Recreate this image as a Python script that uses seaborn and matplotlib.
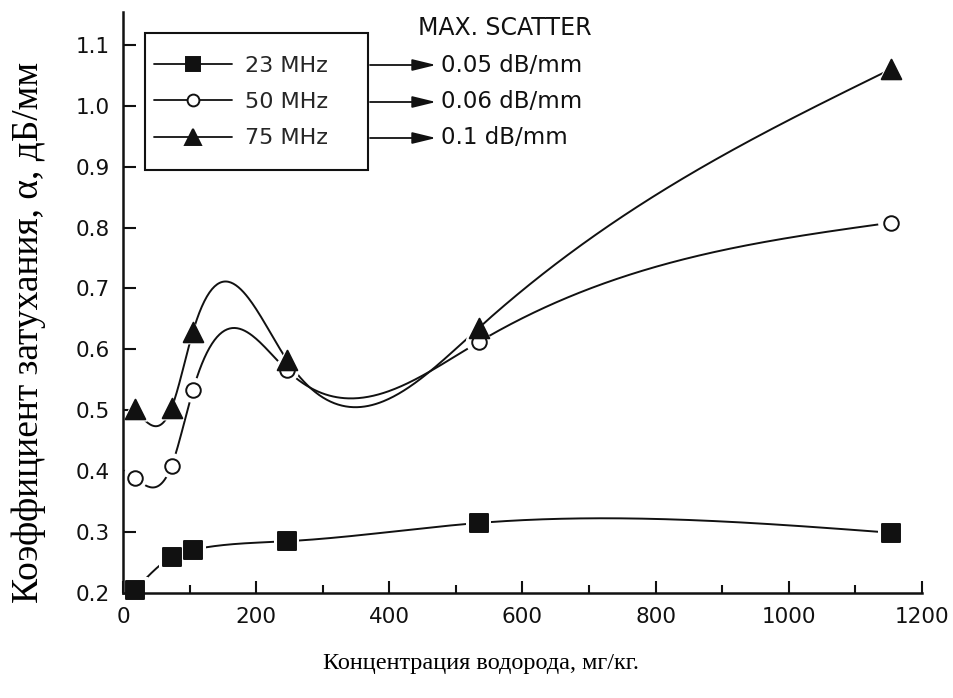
import numpy as np
import pandas as pd
import matplotlib
matplotlib.use("Agg")
import matplotlib.pyplot as plt
import seaborn as sns
from matplotlib.lines import Line2D
from matplotlib.patches import Rectangle
from matplotlib.ticker import MultipleLocator

# Hydrogen concentration (mg/kg) and attenuation coefficient (dB/mm)
hydrogen = [18, 73, 105, 246, 534, 1153]
att_23 = [0.205, 0.259, 0.271, 0.285, 0.315, 0.299]
att_50 = [0.389, 0.409, 0.533, 0.566, 0.612, 0.808]
att_75 = [0.502, 0.504, 0.629, 0.583, 0.635, 1.060]
series_labels = ["23 MHz", "50 MHz", "75 MHz"]
scatter_labels = ["0.05 dB/mm", "0.06 dB/mm", "0.1 dB/mm"]
x_ticks = [0, 200, 400, 600, 800, 1000, 1200]
y_ticks = [0.2, 0.3, 0.4, 0.5, 0.6, 0.7, 0.8, 0.9, 1.0, 1.1]


def natural_spline(x, y, xs):
    """Natural cubic spline through (x, y), evaluated at xs."""
    x = np.asarray(x, float)
    y = np.asarray(y, float)
    n = len(x)
    h = np.diff(x)
    A = np.zeros((n, n))
    b = np.zeros(n)
    A[0, 0] = A[-1, -1] = 1.0
    for i in range(1, n - 1):
        A[i, i - 1] = h[i - 1]
        A[i, i] = 2 * (h[i - 1] + h[i])
        A[i, i + 1] = h[i]
        b[i] = 6 * ((y[i + 1] - y[i]) / h[i] - (y[i] - y[i - 1]) / h[i - 1])
    M = np.linalg.solve(A, b)
    idx = np.clip(np.searchsorted(x, xs) - 1, 0, n - 2)
    x0, x1 = x[idx], x[idx + 1]
    hh = x1 - x0
    return (M[idx] * (x1 - xs) ** 3 / (6 * hh)
            + M[idx + 1] * (xs - x0) ** 3 / (6 * hh)
            + (y[idx] / hh - M[idx] * hh / 6) * (x1 - xs)
            + (y[idx + 1] / hh - M[idx + 1] * hh / 6) * (xs - x0))


points = pd.concat([
    pd.DataFrame({"c": hydrogen, "a": vals, "f": lab})
    for vals, lab in zip([att_23, att_50, att_75], series_labels)
], ignore_index=True)

xs = np.linspace(hydrogen[0], hydrogen[-1], 600)
curves = pd.concat([
    pd.DataFrame({"c": xs, "a": natural_spline(hydrogen, vals, xs), "f": lab})
    for vals, lab in zip([att_23, att_50, att_75], series_labels)
], ignore_index=True)

sns.set_theme(style="ticks")
plt.rcParams["font.family"] = ["DejaVu Sans"]

W, H = 954, 698
fig = plt.figure(figsize=(W / 100, H / 100), dpi=100)
ax = fig.add_axes([123 / W, 1 - 593 / H, (922 - 123) / W, (593 - 12) / H])

ink = "#111111"
markers = {"23 MHz": "s", "50 MHz": "o", "75 MHz": "^"}
fills = {"23 MHz": ink, "50 MHz": "white", "75 MHz": ink}
sizes = {"23 MHz": 150, "50 MHz": 110, "75 MHz": 200}

sns.lineplot(data=curves, x="c", y="a", units="f", estimator=None, sort=False,
             color=ink, lw=1.4, ax=ax, legend=False, zorder=2)

# white halo so the curves stop short of each marker
sns.scatterplot(data=points, x="c", y="a", style="f", markers=markers,
                s=330, color="white", edgecolor="white", linewidth=0,
                ax=ax, legend=False, zorder=2.2)
for lab in series_labels:
    sub = points[points["f"] == lab]
    sns.scatterplot(data=sub, x="c", y="a", marker=markers[lab],
                    s=sizes[lab], color=fills[lab], edgecolor=ink,
                    linewidth=1.4, ax=ax, legend=False, zorder=4,
                    clip_on=False)

ax.set_xlim(0, 1200)
ax.set_ylim(0.2, 1.154)
ax.set_xticks(x_ticks)
ax.xaxis.set_minor_locator(MultipleLocator(100))
ax.set_yticks(y_ticks)
ax.set_yticklabels([f"{v:.1f}" for v in y_ticks])
ax.tick_params(axis="both", which="major", direction="in", length=9,
               width=1.5, color=ink, labelsize=15.5, labelcolor=ink)
ax.tick_params(axis="x", which="major", pad=10)
ax.tick_params(axis="y", which="major", pad=9.5)
ax.tick_params(axis="x", which="minor", direction="in", length=6,
               width=1.5, color=ink)
ax.set_xlabel("")
ax.set_ylabel("")
sns.despine(ax=ax)
for s in ("left", "bottom"):
    ax.spines[s].set_linewidth(1.8)
    ax.spines[s].set_color(ink)
    ax.spines[s].set_zorder(3)

# legend box with the frequencies
fig.patches.append(Rectangle((145 / W, 1 - 170 / H), (368 - 145) / W, (170 - 33) / H,
                             transform=fig.transFigure, fill=False,
                             edgecolor=ink, lw=1.5))
handles = [Line2D([], [], color=ink, lw=1.3, marker=markers[l],
                  markersize={"23 MHz": 10, "50 MHz": 8.5, "75 MHz": 11.5}[l],
                  markerfacecolor=fills[l], markeredgecolor=ink,
                  markeredgewidth=1.4) for l in series_labels]
leg = ax.legend(handles, series_labels, loc="upper left",
                bbox_to_anchor=(154 / W, 1 - 56 / H), bbox_transform=fig.transFigure,
                frameon=False, fontsize=16, handlelength=3.5, handletextpad=0.6,
                borderpad=0, labelspacing=0.73, borderaxespad=0)

# arrows to the maximum scatter for each frequency
fig.text(418 / W, 1 - 28 / H, "MAX. SCATTER", fontsize=17, color=ink,
         ha="left", va="center")
for row_y, txt in zip([65, 102, 138], scatter_labels):
    yf = 1 - row_y / H
    ax.annotate("", xy=(436 / W, yf), xytext=(370 / W, yf),
                xycoords="figure fraction", textcoords="figure fraction",
                arrowprops=dict(arrowstyle="-|>,head_length=0.9,head_width=0.22",
                                color=ink, lw=1.3, mutation_scale=16,
                                shrinkA=0, shrinkB=0))
    fig.text(441 / W, yf, txt, fontsize=16.5, color=ink, ha="left", va="center")

fig.text(481 / W, 1 - 664 / H, "Концентрация водорода, мг/кг.",
         family="Liberation Serif", fontsize=17.5, color="black",
         ha="center", va="center")
fig.text(29 / W, 1 - 332 / H, "Коэффициент затухания, α, дБ/мм",
         family="Liberation Serif", fontsize=27, color="black",
         ha="center", va="center", rotation=90)

fig.savefig("out.png", dpi=100, facecolor="white")
